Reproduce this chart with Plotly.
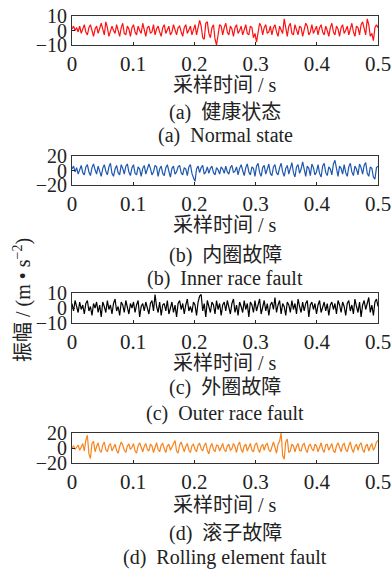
import plotly.graph_objects as go

# ---- data (200 samples over 0..0.5 s) ----
n_samples = 200
t_end = 0.5
time_s = [i * t_end / (n_samples - 1) for i in range(n_samples)]

normal_state = [
    1, 3, 0, 2, -1, 3, -2, 1, 4, -1,
    -3, 2, 4, 0, -4, 1, 3, -2, 2, 5,
    1, -3, 6, 2, -4, -1, 3, 0, -2, 4,
    -1, -4, 2, 5, -2, -3, 3, 1, -4, 2,
    4, -1, -3, 3, 0, -2, 5, 1, -4, 2,
    3, -2, -1, 4, -3, 1, 3, -1, -4, 2,
    4, -2, 1, 3, -3, -1, 4, 0, -3, 2,
    3, -1, -4, 2, 4, -2, 0, 3, -3, 1,
    4, -3, 2, 7, 3, -5, -6, 5, 6, -2,
    -5, 2, 4, -6, -10, -2, 4, 3, -3, 2,
    5, -1, -3, 3, 1, -4, 2, 4, -2, 0,
    3, -3, 1, 4, -2, -3, 3, 2, -5, -2,
    -8, -1, 5, 3, -3, 2, 4, -2, -1, 3,
    -3, 2, 4, -1, -4, 3, 1, -2, 8, 2,
    -4, 3, 5, -2, -3, 4, 1, -3, 3, 2,
    -4, 0, 5, 3, -3, -1, 4, -2, 1, 3,
    -3, 2, 4, -1, -3, 3, 0, -4, 2, 5,
    -1, -3, 3, 1, -4, 2, 4, -2, 0, 3,
    -3, 1, 5, -1, -4, 3, 2, -3, 4, 6,
    1, -3, 8, 4, -4, -2, -7, 2, 4, 2,
]

inner_race = [
    2, 6, -2, 4, -5, 3, 7, -3, -6, 5,
    8, -2, -7, 4, 9, 1, -5, 6, -3, -8,
    3, 8, -1, -6, 5, 10, -4, -8, 2, 7,
    -3, -6, 8, 3, -5, 6, 9, -2, -7, 4,
    8, -4, -6, 5, 2, -8, 3, 7, -5, 1,
    9, 3, -6, -2, 7, 5, -8, 2, 6, -4,
    -7, 4, 8, -1, -9, 3, 6, -5, -2, 5,
    7, -3, -6, 4, 2, -7, 5, 8, -4, -10,
    -15, 2, 6, -3, 4, 7, -5, -2, 5, -4,
    3, 6, -3, -6, 4, 1, -5, 5, 2, -4,
    6, -2, -5, 4, 7, -3, -1, 5, -6, 3,
    8, 0, -7, 4, 9, -2, -6, 5, 3, -8,
    6, 10, -3, -8, 4, 7, -5, 2, 9, -4,
    -7, 5, 8, -3, -6, 4, 10, -2, -8, 3,
    7, -5, 4, 11, -3, -9, 5, 8, -4, 2,
    12, 1, -8, 6, 3, -7, 9, 4, -6, -2,
    8, -4, -9, 6, 10, -3, -7, 5, 2, -6,
    9, 14, 1, -8, 6, 3, -5, 8, -3, -8,
    5, 10, -2, -7, 6, 2, -6, 9, 4, -5,
    7, 11, -4, -8, 5, 3, -9, -12, 4, 6,
]

outer_race = [
    3, -2, 5, 1, -3, 4, -1, 2, -4, 3,
    5, -2, 1, -5, 3, 0, 4, -3, 2, -6,
    4, 1, -3, 5, -1, 2, -4, 3, 6, -2,
    1, -5, 4, 2, -3, 5, -1, -4, 3, 0,
    4, -3, 2, 5, -6, 1, 3, -2, 4, -1,
    -4, 3, 5, -2, 9, 1, -3, 4, -5, 2,
    3, -2, 5, -4, 1, 4, -3, 2, -6, 3,
    5, -1, 3, -4, 2, 6, -2, 1, -3, 4,
    2, -5, 4, 8, 9, -2, 3, -6, 5, 1,
    -3, 4, 2, -4, 5, -1, 3, -5, 2, 4,
    -2, 5, 1, -4, 3, 6, -3, 2, -5, 4,
    1, -3, 5, -1, 3, -6, 4, 2, -3, 5,
    -2, 3, 6, -4, 1, 5, -2, 3, -5, 2,
    4, -1, 7, -3, 2, 5, -4, 3, 1, -5,
    4, 2, -3, 5, -1, 3, -4, 6, 1, -3,
    4, -2, 3, 5, -6, 2, 4, -1, 3, -4,
    2, 5, -3, 1, 4, -2, 3, -5, 2, 4,
    -1, 3, -4, 5, 2, -3, 4, 1, -5, 3,
    5, -2, 2, -4, 6, 1, -3, 4, -6, 2,
    5, -1, 3, 7, -3, 2, -5, 4, 6, 1,
]

rolling_element = [
    0, 3, -2, 1, 4, -3, 2, 6, -4, 10,
    17, -8, -14, 6, 9, -5, 2, 7, -3, -6,
    4, 8, -2, -5, 3, 6, -4, 1, 5, -3,
    -7, 2, 8, 4, -3, -6, 3, 5, -2, 1,
    6, -4, -7, 3, 7, 1, -5, 2, 6, -2,
    -4, 5, 3, -6, 1, 7, -2, -5, 4, 6,
    -1, -6, 3, 5, -3, 2, 7, 10, -4, -7,
    4, 8, 1, -5, 2, 6, -3, -6, 3, 5,
    -2, -5, 4, 6, -1, -4, 3, 7, -3, -8,
    2, 6, -2, -5, 4, 3, -4, 1, 6, -2,
    -5, 3, 5, -3, -1, 6, 2, -6, 4, 8,
    -2, -6, 3, 5, -4, 1, 6, -3, -5, 4,
    7, -1, -6, 2, 5, -3, 4, 6, -2, -5,
    3, 8, 1, -7, 5, 9, 20, -10, -15, 8,
    12, -6, -4, 5, 3, -5, 2, 6, -3, -4,
    4, 6, -2, -6, 3, 5, -1, -4, 5, 3,
    -5, 2, 7, -2, -6, 4, 5, -3, 1, 6,
    -4, -6, 3, 7, 1, -5, 4, 6, -2, -5,
    3, 8, -1, -6, 2, 5, -3, 4, 7, -2,
    -6, 3, 5, -4, 2, 6, -3, 1, 8, 10,
]

series = [normal_state, inner_race, outer_race, rolling_element]
colors = ["#ff1010", "#1f57b0", "#000000", "#f7841f"]
y_limits = [10, 20, 10, 20]
x_ticks = [0, 0.1, 0.2, 0.3, 0.4, 0.5]
x_tick_labels = ["0", "0.1", "0.2", "0.3", "0.4", "0.5"]
x_title = "采样时间 / s"
captions_cn = ["(a)  健康状态", "(b)  内圈故障", "(c)  外圈故障", "(d)  滚子故障"]
captions_en = ["(a)  Normal state", "(b)  Inner race fault",
               "(c)  Outer race fault", "(d)  Rolling element fault"]
y_title = "振幅 / (m • s<sup>−2</sup>)"

# ---- layout in pixels ----
W, H = 392, 571
ML, MR, MT, MB = 72, 14, 16, 108
plot_top, plot_bot = MT, H - MB
ph = plot_bot - plot_top
panel_px = [(16, 45), (156, 185), (293, 323), (433, 463)]
xtitle_py = [85, 225, 363, 505]
cap1_py = [113, 255, 387, 533]
cap2_py = [135, 278, 413, 557]


def py2paper(py):
    return (plot_bot - py) / ph


FONT = "Liberation Serif, Times New Roman, Noto Sans CJK SC, serif"
TXT = "#222222"

fig = go.Figure()
layout = dict(
    template="none",
    width=W, height=H,
    margin=dict(l=ML, r=MR, t=MT, b=MB, pad=0, autoexpand=False),
    paper_bgcolor="white", plot_bgcolor="white",
    showlegend=False,
    font=dict(family=FONT, size=20, color=TXT),
)
annotations = []
for k in range(4):
    suffix = "" if k == 0 else str(k + 1)
    fig.add_trace(go.Scatter(
        x=time_s, y=series[k], mode="lines",
        line=dict(color=colors[k], width=1.2),
        xaxis="x" + suffix, yaxis="y" + suffix,
    ))
    top, bot = panel_px[k]
    layout["xaxis" + suffix] = dict(
        domain=[0, 1], anchor="y" + suffix, range=[0, 0.5],
        tickvals=x_ticks, ticktext=x_tick_labels,
        ticks="inside", ticklen=3, tickcolor=TXT, tickwidth=1,
        showline=True, mirror=True, linecolor="#333333", linewidth=1,
        showgrid=False, zeroline=False, automargin=False,
        showticklabels=True,
        tickfont=dict(family=FONT, size=21, color=TXT),
    )
    lim = y_limits[k]
    layout["yaxis" + suffix] = dict(
        domain=[py2paper(bot), py2paper(top)], anchor="x" + suffix,
        range=[-lim, lim], tickvals=[-lim, 0, lim],
        ticks="inside", ticklen=3, tickcolor=TXT, tickwidth=1,
        showline=True, mirror=True, linecolor="#333333", linewidth=1,
        showgrid=False, zeroline=False, automargin=False,
        tickfont=dict(family=FONT, size=20, color=TXT),
    )
    for txt, py in ((x_title, xtitle_py[k]), (captions_cn[k], cap1_py[k]),
                    (captions_en[k], cap2_py[k])):
        annotations.append(dict(
            text=txt, xref="paper", yref="paper", x=0.5, y=py2paper(py),
            xanchor="center", yanchor="middle", showarrow=False,
            font=dict(family=FONT, size=20, color=TXT),
        ))

annotations.append(dict(
    text=y_title, xref="paper", yref="paper",
    x=(22 - ML) / (W - ML - MR), y=py2paper(300),
    xanchor="center", yanchor="middle", showarrow=False, textangle=-90,
    font=dict(family=FONT, size=20, color=TXT),
))
layout["annotations"] = annotations
fig.update_layout(**layout)
fig.write_html("out.html")
